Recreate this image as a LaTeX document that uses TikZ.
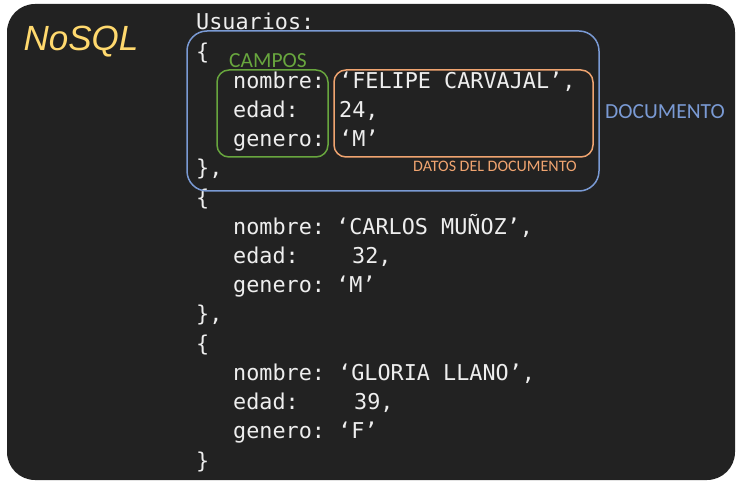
\documentclass[tikz,border=0pt]{standalone}
\usepackage{fontspec}
\newfontfamily\codefont{DejaVu Sans Mono}
\newfontfamily\labelfont{Carlito}
\newfontfamily\titlefont{Liberation Sans}

\definecolor{panel}{RGB}{34,34,34}
\definecolor{codetext}{RGB}{238,238,238}
\definecolor{docblue}{RGB}{122,154,212}
\definecolor{fieldgreen}{RGB}{104,166,62}
\definecolor{dataorange}{RGB}{240,164,112}
\definecolor{titleyellow}{RGB}{255,217,110}

\begin{document}
\begin{tikzpicture}[x=1pt,y=-1pt]
    % Basic styles
    \tikzset{
        code/.style={
            font=\codefont\fontsize{21.8}{24}\selectfont,
            text=codetext,
            anchor=base west,
            inner sep=0pt
        },
        frame/.style={
            draw,
            rounded corners=12pt,
            line width=1.5pt,
            inner sep=0pt
        },
        tag/.style={
            font=\labelfont\fontsize{#1}{#1}\selectfont,
            inner sep=0pt
        }
    }

    % Canvas and dark panel
    \useasboundingbox[fill=white] (0,0) rectangle (742,486);
    \fill[panel, rounded corners=28pt] (7,4) rectangle (735,480);

    % Title
    \node[font=\titlefont\itshape\fontsize{35}{35}\selectfont, text=titleyellow,
          anchor=base, inner sep=0pt] (nosql) at (81,51) {NoSQL};

    % First document
    \node[code] (usuarios) at (196,30) {Usuarios:};
    \node[code] (open1) at (196,59.2) {\{};
    \node[code] (nombre1) at (233,88.4) {nombre:};
    \node[code] (edad1) at (233,117.6) {edad:};
    \node[code] (genero1) at (233,146.8) {genero:};
    \node[code] (nombre1val) at (339,88.4) {‘FELIPE CARVAJAL’,};
    \node[code] (edad1val) at (339,117.6) {24,};
    \node[code] (genero1val) at (339,146.8) {‘M’};
    \node[code] (close1) at (196,176) {\},};

    % Second document
    \node[code] (open2) at (196,205.2) {\{};
    \node[code] (nombre2) at (233,234.4) {nombre:};
    \node[code] (edad2) at (233,263.6) {edad:};
    \node[code] (genero2) at (233,292.8) {genero:};
    \node[code] (nombre2val) at (336,234.4) {‘CARLOS MUÑOZ’,};
    \node[code] (edad2val) at (352,263.6) {32,};
    \node[code] (genero2val) at (336,292.8) {‘M’};
    \node[code] (close2) at (196,322) {\},};

    % Third document
    \node[code] (open3) at (196,351.2) {\{};
    \node[code] (nombre3) at (233,380.4) {nombre:};
    \node[code] (edad3) at (233,409.6) {edad:};
    \node[code] (genero3) at (233,438.8) {genero:};
    \node[code] (nombre3val) at (338,380.4) {‘GLORIA LLANO’,};
    \node[code] (edad3val) at (354,409.6) {39,};
    \node[code] (genero3val) at (338,438.8) {‘F’};
    \node[code] (close3) at (196,468) {\}};

    % Highlight frames
    \node[frame, draw=docblue, rounded corners=20pt, minimum width=412pt,
          minimum height=160pt] (docbox) at (393,111) {};
    \node[frame, draw=fieldgreen, minimum width=111pt,
          minimum height=87pt] (fieldbox) at (272.5,113.5) {};
    \node[frame, draw=dataorange, minimum width=259pt,
          minimum height=87pt] (databox) at (463.5,113.5) {};

    % Frame labels
    \node[tag=21.5, text=fieldgreen] (campos) at (268,60.5) {CAMPOS};
    \node[tag=21.5, text=docblue] (documento) at (665,112) {DOCUMENTO};
    \node[tag=16, text=dataorange] (datos) at (495,166) {DATOS DEL DOCUMENTO};
\end{tikzpicture}
\end{document}
